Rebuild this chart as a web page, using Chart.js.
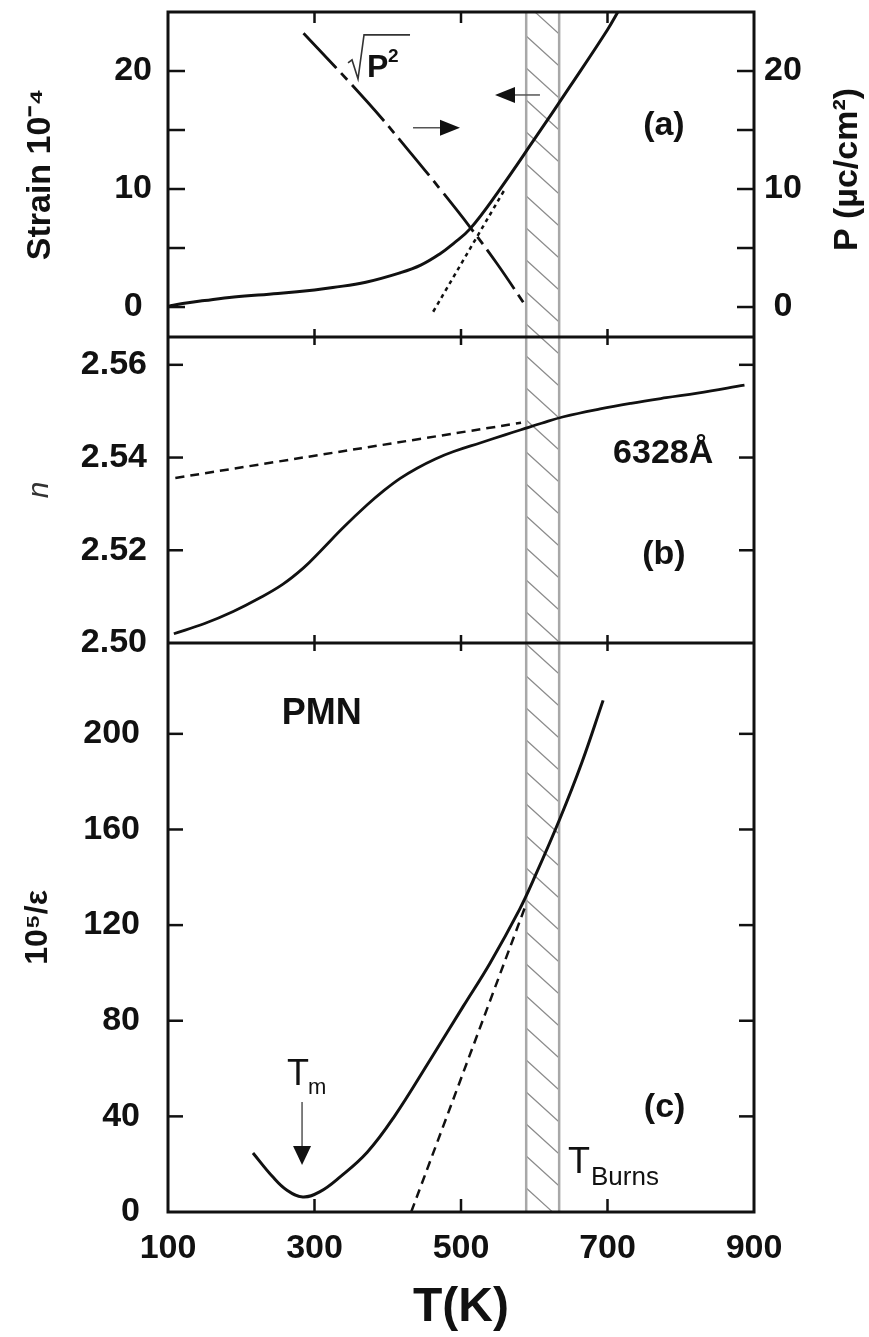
<!DOCTYPE html>
<html><head><meta charset="utf-8">
<script src="https://cdn.jsdelivr.net/npm/chart.js@4.4.1/dist/chart.umd.min.js"></script>
<style>html,body{margin:0;padding:0;background:#fff;}canvas{display:block;}</style>
</head><body>
<canvas id="c" width="869" height="1337"></canvas>
<script>
// ---------- data ----------
const xRange = [100, 900];
const xTickLabels = [100, 300, 500, 700, 900];
// panel (a): strain (left axis) and sqrt(P^2) (right axis)
const strainT   = [100, 120, 150, 190, 250, 300, 325, 370, 417, 445, 471, 490, 512, 550, 600, 650, 700, 716];
const strainVal = [0.05, 0.3, 0.55, 0.85, 1.15, 1.45, 1.65, 2.1, 2.9, 3.55, 4.5, 5.4, 6.6, 9.7, 14.2, 18.8, 23.5, 25.2];
const strainFitT   = [462, 560];
const strainFitVal = [-0.4, 10.0];
const sqrtP2T   = [285, 372, 428, 474, 512, 550, 586];
const sqrtP2Val = [23.2, 17.4, 13.3, 9.8, 6.8, 3.6, 0.3];
const strainTicks = [0, 10, 20];
const pTicks = [0, 10, 20];
// panel (b): refractive index n at 6328 A
const nT   = [108, 150, 189, 225, 257, 285, 308, 340, 372, 395, 417, 440, 465, 490, 527, 560, 582, 610, 640, 690, 732, 780, 823, 887];
const nVal = [2.5020, 2.5042, 2.5068, 2.5097, 2.5127, 2.5162, 2.5198, 2.5250, 2.5298, 2.5329, 2.5355, 2.5377, 2.5397, 2.5413, 2.5432, 2.5449, 2.5460, 2.5474, 2.5488, 2.5505, 2.5517, 2.5529, 2.5539, 2.5556];
const nFitT   = [110, 582];
const nFitVal = [2.5356, 2.5475];
const nTicks = [2.50, 2.52, 2.54, 2.56];
// panel (c): 10^5/epsilon
const epsT   = [216, 243, 262, 284, 307, 335, 372, 408, 458, 503, 540, 580, 599, 635, 665, 694];
const epsVal = [24.7, 14.7, 9.2, 6.3, 8.4, 14.7, 25, 39.5, 63.7, 86, 104.3, 126.6, 139, 164.5, 188, 214];
const epsFitT   = [432, 588];
const epsFitVal = [0, 128];
const epsTicks = [0, 40, 80, 120, 160, 200];
// Burns temperature band
const burnsBand = [589, 634];
// Tm arrow (T, from value, to value)
const tmArrow = [283, 46, 19.7];

// ---------- helpers ----------
const FONT = "'Liberation Sans', Arial, Helvetica, sans-serif";
const INK = '#111';
const pts = (xs, ys) => xs.map((x, i) => ({x: x, y: ys[i]}));
const tickFont = {family: FONT, size: 34, weight: 'bold'};
const noPad = s => { s.paddingTop = 0; s.paddingBottom = 0; s.paddingLeft = 0; s.paddingRight = 0; };

function yScale(opts) {
  return {
    type: 'linear',
    position: opts.position,
    stack: opts.stack,
    stackWeight: opts.stackWeight,
    weight: opts.weight,
    min: opts.min, max: opts.max,
    grid: {display: false, drawTicks: false},
    border: {display: false},
    ticks: {
      stepSize: opts.step,
      includeBounds: false,
      autoSkip: false,
      font: tickFont,
      color: INK,
      padding: opts.padding || 0,
      crossAlign: opts.crossAlign || 'near',
      callback: opts.callback || (() => '')
    },
    title: opts.title || {display: false},
    afterFit: s => { s.width = opts.width; noPad(s); }
  };
}
const labelIf = list => v => {
  const hit = list.find(t => Math.abs(t - v) < 1e-6);
  return hit === undefined ? '' : String(hit);
};

// ---------- plugins ----------
const bandPlugin = {
  id: 'band',
  beforeDatasetsDraw(chart) {
    const {ctx, chartArea: ca, scales} = chart;
    const x0 = scales.x.getPixelForValue(burnsBand[0]);
    const x1 = scales.x.getPixelForValue(burnsBand[1]);
    ctx.save();
    ctx.beginPath(); ctx.rect(x0, ca.top, x1 - x0, ca.bottom - ca.top); ctx.clip();
    ctx.strokeStyle = '#8c8c8c'; ctx.lineWidth = 1.2;
    ctx.beginPath();
    for (let y = ca.top - 40; y < ca.bottom + 40; y += 32) {
      ctx.moveTo(x0, y); ctx.lineTo(x1, y + 30);
    }
    ctx.stroke();
    ctx.restore();
    ctx.save();
    ctx.strokeStyle = '#a8a8a8'; ctx.lineWidth = 2.5;
    [x0, x1].forEach(x => { ctx.beginPath(); ctx.moveTo(x, ca.top); ctx.lineTo(x, ca.bottom); ctx.stroke(); });
    ctx.restore();
  }
};

function arrowH(ctx, xTail, xTip, y) {
  const dir = Math.sign(xTip - xTail);
  ctx.save();
  ctx.strokeStyle = '#555'; ctx.lineWidth = 1.5;
  ctx.beginPath(); ctx.moveTo(xTail, y); ctx.lineTo(xTip - dir * 14, y); ctx.stroke();
  ctx.fillStyle = INK;
  ctx.beginPath(); ctx.moveTo(xTip, y); ctx.lineTo(xTip - dir * 20, y - 8); ctx.lineTo(xTip - dir * 20, y + 8); ctx.closePath(); ctx.fill();
  ctx.restore();
}

const annotPlugin = {
  id: 'annot',
  afterDatasetsDraw(chart) {
    const {ctx, scales} = chart;
    const X = v => scales.x.getPixelForValue(v);
    const Y = (id, v) => scales[id].getPixelForValue(v);
    const txt = (s, x, y, font, align) => {
      ctx.font = font; ctx.textAlign = align || 'center'; ctx.textBaseline = 'alphabetic';
      ctx.fillStyle = INK; ctx.fillText(s, x, y);
    };
    ctx.save();
    // panel labels
    txt('(a)', X(777), Y('ya', 14.6), 'bold 34px ' + FONT);
    txt('(b)', X(777), Y('yb', 2.5171), 'bold 34px ' + FONT);
    txt('(c)', X(778), Y('yc', 39.8), 'bold 34px ' + FONT);
    txt('6328Å', X(776), Y('yb', 2.5389), 'bold 34px ' + FONT);
    txt('PMN', X(310), Y('yc', 204.2), 'bold 36px ' + FONT);
    // sqrt(P^2)
    const px = X(371.7), py = Y('ya', 19.5);
    txt('P', px, py, 'bold 32px ' + FONT, 'left');
    txt('2', px + 21, py - 15, 'bold 19px ' + FONT, 'left');
    ctx.strokeStyle = '#333'; ctx.lineWidth = 1.6;
    ctx.beginPath();
    ctx.moveTo(px - 19, py - 14); ctx.lineTo(px - 15, py - 17); ctx.lineTo(px - 9, py + 2);
    ctx.lineTo(px - 3, py - 42); ctx.lineTo(px + 43, py - 42);
    ctx.stroke();
    // arrows in panel (a)
    arrowH(ctx, X(434.5), X(498.6), Y('ya', 15.2));
    arrowH(ctx, X(607.8), X(546.4), Y('ya', 17.97));
    // Tm
    const tx = X(tmArrow[0]);
    const ty0 = Y('yc', tmArrow[1]), ty1 = Y('yc', tmArrow[2]);
    ctx.strokeStyle = '#555'; ctx.lineWidth = 1.5;
    ctx.beginPath(); ctx.moveTo(tx, ty0); ctx.lineTo(tx, ty1 - 16); ctx.stroke();
    ctx.fillStyle = INK;
    ctx.beginPath(); ctx.moveTo(tx, ty1); ctx.lineTo(tx - 9, ty1 - 19); ctx.lineTo(tx + 9, ty1 - 19); ctx.closePath(); ctx.fill();
    const tmx = X(262.5), tmy = Y('yc', 53.2);
    txt('T', tmx, tmy, '36px ' + FONT, 'left');
    txt('m', tmx + 21, tmy + 9, '22px ' + FONT, 'left');
    // T Burns
    const tbx = X(646.1), tby = Y('yc', 16.4);
    txt('T', tbx, tby, '36px ' + FONT, 'left');
    txt('Burns', tbx + 23, tby + 12, '26px ' + FONT, 'left');
    ctx.restore();
  }
};

const framePlugin = {
  id: 'frame',
  afterDraw(chart) {
    const {ctx, chartArea: ca, scales} = chart;
    ctx.save();
    ctx.strokeStyle = INK; ctx.lineWidth = 3;
    ctx.strokeRect(ca.left, ca.top, ca.right - ca.left, ca.bottom - ca.top);
    [scales.yb.top, scales.yc.top].forEach(y => {
      ctx.beginPath(); ctx.moveTo(ca.left, y); ctx.lineTo(ca.right, y); ctx.stroke();
    });
    ctx.lineWidth = 2.5;
    const inward = (sc, side, len) => {
      sc.ticks.forEach(t => {
        if (t.value <= sc.min + 1e-9 || t.value >= sc.max - 1e-9) return;
        const y = sc.getPixelForValue(t.value);
        ctx.beginPath();
        if (side === 'left') { ctx.moveTo(ca.left, y); ctx.lineTo(ca.left + len, y); }
        else { ctx.moveTo(ca.right, y); ctx.lineTo(ca.right - len, y); }
        ctx.stroke();
      });
    };
    inward(scales.ya, 'left', 17); inward(scales.yb, 'left', 15); inward(scales.yc, 'left', 15);
    inward(scales.yRa, 'right', 17); inward(scales.yRb, 'right', 15); inward(scales.yRc, 'right', 15);
    const sx = scales.x;
    sx.ticks.forEach(t => {
      if (t.value <= sx.min || t.value >= sx.max) return;
      const x = sx.getPixelForValue(t.value);
      ctx.beginPath(); ctx.moveTo(x, ca.top); ctx.lineTo(x, ca.top + 11); ctx.stroke();
      [scales.yb.top, scales.yc.top].forEach(y => {
        ctx.beginPath(); ctx.moveTo(x, y - 8); ctx.lineTo(x, y + 8); ctx.stroke();
      });
      ctx.beginPath(); ctx.moveTo(x, ca.bottom); ctx.lineTo(x, ca.bottom - 13); ctx.stroke();
    });
    // right axis title of panel (a)
    const ra = scales.yRa;
    ctx.translate(848, (ra.top + ra.bottom) / 2 - 5);
    ctx.rotate(-Math.PI / 2);
    ctx.font = 'bold 34px ' + FONT; ctx.textAlign = 'center'; ctx.textBaseline = 'middle';
    ctx.fillStyle = INK;
    ctx.fillText('P (µc/cm²)', 0, 0);
    ctx.restore();
  }
};

// ---------- chart ----------
const solid = (data, yAxisID, w) => ({data, yAxisID, borderColor: INK, borderWidth: w || 3, pointRadius: 0, fill: false, tension: 0.4});
const dashed = (data, yAxisID, dash, w) => ({data, yAxisID, borderColor: INK, borderWidth: w || 2.5, borderDash: dash, pointRadius: 0, fill: false, tension: 0.4});

new Chart(document.getElementById('c'), {
  type: 'line',
  data: {
    datasets: [
      solid(pts(strainT, strainVal), 'ya', 3),
      dashed(pts(strainFitT, strainFitVal), 'ya', [4, 4], 2.5),
      dashed(pts(sqrtP2T, sqrtP2Val), 'yRa', [48, 7, 9, 7], 2.8),
      solid(pts(nT, nVal), 'yb', 2.8),
      dashed(pts(nFitT, nFitVal), 'yb', [9, 6], 2.5),
      solid(pts(epsT, epsVal), 'yc', 3),
      dashed(pts(epsFitT, epsFitVal), 'yc', [9, 6], 2.5)
    ]
  },
  options: {
    responsive: false,
    animation: false,
    devicePixelRatio: 1,
    layout: {padding: {left: 0, right: 0, top: 12, bottom: 0}},
    plugins: {legend: {display: false}, tooltip: {enabled: false}},
    scales: {
      x: {
        type: 'linear', position: 'bottom', min: xRange[0], max: xRange[1],
        grid: {display: false, drawTicks: false}, border: {display: false},
        ticks: {stepSize: 200, autoSkip: false, includeBounds: false, font: tickFont, color: INK, padding: 16, maxRotation: 0,
          callback: labelIf(xTickLabels)},
        title: {display: true, text: 'T(K)', color: INK, font: {family: FONT, size: 48, weight: 'bold'}, padding: {top: 0, bottom: 0}},
        afterFit: s => { s.height = 125; noPad(s); }
      },
      ya: yScale({position: 'left', stack: 'L', stackWeight: 325, weight: 3, min: -2.54, max: 25.0, step: 5, width: 168,
        padding: 16, crossAlign: 'center', callback: labelIf(strainTicks),
        title: {display: true, text: 'Strain 10⁻⁴', color: INK, font: {family: FONT, size: 34, weight: 'bold'}, padding: {top: 20, bottom: 0}}}),
      yb: yScale({position: 'left', stack: 'L', stackWeight: 306, weight: 2, min: 2.50, max: 2.566, step: 0.02, width: 168,
        padding: 21, callback: v => { const h = nTicks.find(t => Math.abs(t - v) < 1e-6); return h === undefined ? '' : h.toFixed(2); },
        title: {display: true, text: 'n', color: '#333', font: {family: FONT, size: 30, style: 'italic'}, padding: {top: 22, bottom: 0}}}),
      yc: yScale({position: 'left', stack: 'L', stackWeight: 569, weight: 1, min: 0, max: 238, step: 40, width: 168,
        padding: 28, callback: labelIf(epsTicks),
        title: {display: true, text: '10⁵/ε', color: INK, font: {family: FONT, size: 32, weight: 'bold'}, padding: {top: 19, bottom: 0}}}),
      yRa: yScale({position: 'right', stack: 'R', stackWeight: 325, weight: 1, min: -2.54, max: 25.0, step: 5, width: 115,
        padding: 10, crossAlign: 'center', callback: labelIf(pTicks)}),
      yRb: yScale({position: 'right', stack: 'R', stackWeight: 306, weight: 2, min: 2.50, max: 2.566, step: 0.02, width: 115}),
      yRc: yScale({position: 'right', stack: 'R', stackWeight: 569, weight: 3, min: 0, max: 238, step: 40, width: 115})
    }
  },
  plugins: [bandPlugin, annotPlugin, framePlugin]
});
</script>
</body></html>
